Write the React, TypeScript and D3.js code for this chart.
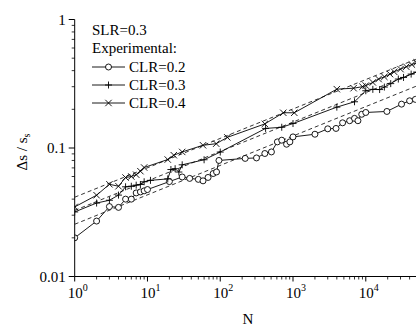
import React from "react";
import * as d3 from "d3";

// CLR = 0.2 (open circles)
const n02 = [1, 2, 3, 4, 5, 6, 7, 8, 9, 10, 20, 30, 38, 50, 58, 68, 80, 89, 96, 220, 315, 410, 505, 610, 700, 815, 905, 1000, 2000, 3000, 3900, 4800, 6000, 7000, 7800, 8800, 10000, 19500, 31000, 40000, 48000];
const v02 = [0.02, 0.027, 0.035, 0.0345, 0.04, 0.04, 0.0447, 0.0455, 0.0464, 0.0475, 0.0548, 0.0595, 0.058, 0.057, 0.0555, 0.059, 0.0633, 0.0651, 0.08, 0.083, 0.0837, 0.0906, 0.0932, 0.1116, 0.115, 0.107, 0.1116, 0.122, 0.128, 0.141, 0.142, 0.157, 0.163, 0.17, 0.163, 0.183, 0.189, 0.1925, 0.2195, 0.233, 0.239];

// CLR = 0.3 (plus)
const n03 = [1, 2, 3, 4, 5, 6, 7, 8, 9, 11, 19, 21, 24, 27, 30, 60, 100, 420, 700, 1000, 4000, 7000, 10000, 12500, 15500, 18000, 22000, 28000, 33000, 42000, 50000];
const v03 = [0.0318, 0.0373, 0.0392, 0.043, 0.0499, 0.0504, 0.0514, 0.052, 0.0546, 0.056, 0.0575, 0.068, 0.069, 0.065, 0.074, 0.081, 0.093, 0.142, 0.145, 0.155, 0.208, 0.229, 0.279, 0.286, 0.285, 0.298, 0.317, 0.344, 0.354, 0.376, 0.39];

// CLR = 0.4 (cross)
const n04 = [1, 2, 3, 4, 5, 6, 7, 8, 9, 19, 23, 30, 58, 88, 125, 410, 735, 1040, 4000, 6800, 9000, 10000, 12500, 15000, 18000, 21500, 24500, 30000, 36000, 43000, 50000];
const v04 = [0.0348, 0.0429, 0.0522, 0.0504, 0.0589, 0.06, 0.062, 0.066, 0.0705, 0.0813, 0.0879, 0.0932, 0.105, 0.108, 0.121, 0.154, 0.188, 0.188, 0.287, 0.292, 0.3, 0.306, 0.324, 0.344, 0.358, 0.376, 0.392, 0.411, 0.429, 0.446, 0.463];

// dashed fit lines, end points [N, value]
const fitLow = [[1, 0.0255], [48800, 0.302]];
const fitMid = [[1, 0.0327], [48800, 0.388]];
const fitUp = [[1, 0.0414], [48800, 0.49]];

const xTickExp = [0, 1, 2, 3, 4];
const yTicks = [0.01, 0.1, 1];
const yTickLabels = ["0.01", "0.1", "1"];
const legendLabels = ["CLR=0.2", "CLR=0.3", "CLR=0.4"];

const W = 416;
const H = 326;
const FONT = "'Liberation Serif', 'Times New Roman', serif";
const FS = 15;

const x = d3.scaleLog().domain([1, Math.pow(10, 4.69)]).range([74.7, 416]);
const y = d3.scaleLog().domain([0.01, 1]).range([276.5, 19.5]);

function zip(ns: number[], vs: number[]) {
  return ns.map((n, i) => [n, vs[i]] as [number, number]);
}

function Marker({ kind, cx, cy }: { kind: string; cx: number; cy: number }) {
  if (kind === "circle") {
    return <circle cx={cx} cy={cy} r={3} fill="white" stroke="black" strokeWidth={0.9} />;
  }
  if (kind === "plus") {
    const s = 3.5;
    return (
      <path d={`M${cx - s},${cy}H${cx + s}M${cx},${cy - s}V${cy + s}`} stroke="black" strokeWidth={0.9} />
    );
  }
  const s = 3.2;
  return (
    <path
      d={`M${cx - s},${cy - s}L${cx + s},${cy + s}M${cx - s},${cy + s}L${cx + s},${cy - s}`}
      stroke="black"
      strokeWidth={0.9}
    />
  );
}

export default function App() {
  const line = d3
    .line<[number, number]>()
    .x(d => x(d[0]))
    .y(d => y(d[1]));

  const series = [
    { pts: zip(n02, v02), kind: "circle" },
    { pts: zip(n03, v03), kind: "plus" },
    { pts: zip(n04, v04), kind: "cross" }
  ];
  const fits = [fitLow, fitMid, fitUp] as [number, number][][];

  const [x0, x1] = x.range();
  const yBase = y(0.01);
  const yTop = y(1);

  // minor ticks 2..9 of each decade
  const xMinor: number[] = [];
  for (let e = 0; e <= 4; e++) {
    for (let m = 2; m <= 9; m++) {
      const v = m * Math.pow(10, e);
      if (x(v) <= x1) xMinor.push(v);
    }
  }
  const yMinor: number[] = [];
  for (let e = -2; e < 0; e++) {
    for (let m = 2; m <= 9; m++) yMinor.push(m * Math.pow(10, e));
  }

  return (
    <svg
      width={W}
      height={H}
      style={{ position: "absolute", left: 0, top: 0, background: "white" }}
      fontFamily={FONT}
    >
      <defs>
        <clipPath id="plot">
          <rect x={x0} y={0} width={x1 - x0} height={yBase} />
        </clipPath>
      </defs>

      <g clipPath="url(#plot)">
        {fits.map((f, i) => (
          <path key={`fit-${i}`} d={line(f) || ""} fill="none" stroke="black" strokeWidth={0.8} strokeDasharray="4,3" />
        ))}
        {series.map((s, i) => (
          <g key={`s-${i}`}>
            <path d={line(s.pts) || ""} fill="none" stroke="black" strokeWidth={0.9} />
            {s.pts.map((p, j) => (
              <Marker key={j} kind={s.kind} cx={x(p[0])} cy={y(p[1])} />
            ))}
          </g>
        ))}
      </g>

      {/* x axis */}
      <line x1={x0} x2={x1} y1={yBase} y2={yBase} stroke="black" strokeWidth={1} />
      {xTickExp.map(e => (
        <g key={`xt-${e}`} transform={`translate(${x(Math.pow(10, e))},${yBase})`}>
          <line y1={0} y2={5} stroke="black" />
          <text x={3} y={21} textAnchor="middle" fontSize={FS}>
            10<tspan dy={-7} fontSize={10}>{e}</tspan>
          </text>
        </g>
      ))}
      {xMinor.map(v => (
        <line key={`xm-${v}`} x1={x(v)} x2={x(v)} y1={yBase} y2={yBase + 3} stroke="black" strokeWidth={0.8} />
      ))}
      <text x={248} y={324} textAnchor="middle" fontSize={FS}>
        N
      </text>

      {/* y axis */}
      <line x1={x0} x2={x0} y1={yTop} y2={yBase} stroke="black" strokeWidth={1} />
      {yTicks.map((t, i) => (
        <g key={`yt-${t}`} transform={`translate(${x0},${y(t)})`}>
          <line x1={-6} x2={0} stroke="black" />
          <text x={-9} dy="0.35em" textAnchor="end" fontSize={FS}>
            {yTickLabels[i]}
          </text>
        </g>
      ))}
      {yMinor.map(v => (
        <line key={`ym-${v}`} x1={x0 - 3} x2={x0} y1={y(v)} y2={y(v)} stroke="black" strokeWidth={0.8} />
      ))}
      <text transform="translate(27,152) rotate(-90)" textAnchor="middle" fontSize={FS}>
        Δs / s<tspan dy={3} fontSize={10}>s</tspan>
      </text>

      {/* legend */}
      <text x={92} y={35} fontSize={FS}>SLR=0.3</text>
      <text x={92} y={53} fontSize={FS}>Experimental:</text>
      {legendLabels.map((lab, i) => {
        const by = 72 + i * 18;
        const ly = by - 5;
        return (
          <g key={lab}>
            <line x1={92} x2={125} y1={ly} y2={ly} stroke="black" strokeWidth={0.9} />
            <Marker kind={series[i].kind} cx={108.5} cy={ly} />
            <text x={129} y={by} fontSize={FS}>
              {lab}
            </text>
          </g>
        );
      })}
    </svg>
  );
}
